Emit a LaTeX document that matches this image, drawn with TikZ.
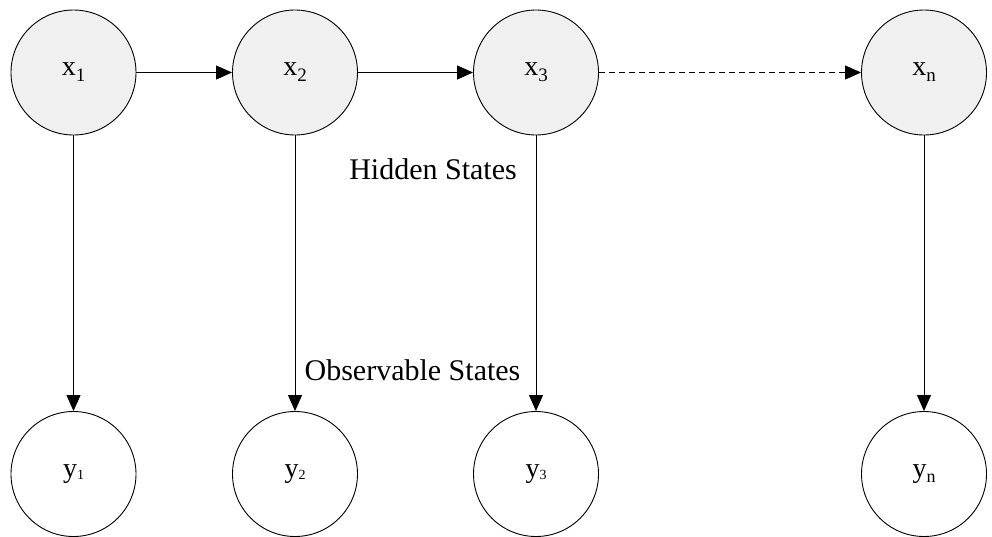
\documentclass[tikz,border=0pt]{standalone}
\usepackage{fontspec}
\setmainfont{Liberation Serif}
\usetikzlibrary{arrows.meta}
\definecolor{statefill}{HTML}{F0F0F0}
% lowered subscript for hidden states, small digit for observations
\newcommand\hsub[1]{\raisebox{-6pt}{\fontsize{19}{19}\selectfont #1}}
\newcommand\osub[1]{\raisebox{-2pt}{\fontsize{14}{14}\selectfont #1}}
\newcommand\nsub[1]{\raisebox{-5pt}{\fontsize{18}{18}\selectfont #1}}
\begin{document}
\begin{tikzpicture}[x=1pt,y=-1pt,
  statenode/.style={circle,draw=black,line width=0.9pt,minimum size=125pt,
    inner sep=0pt,font=\fontsize{28}{28}\selectfont},
  hiddennode/.style={statenode,fill=statefill},
  obsnode/.style={statenode,fill=white},
  link/.style={draw=black,line width=0.9pt,-{Triangle[length=16pt,width=14pt]}},
  caption/.style={font=\fontsize{30}{30}\selectfont,inner sep=0pt,anchor=base}]
\useasboundingbox (0,0) rectangle (992,536);

% hidden chain
\node[hiddennode] (x1) at (73.5,72.5) {x\hsub{1}};
\node[hiddennode] (x2) at (295,72.5) {x\hsub{2}};
\node[hiddennode] (x3) at (536,72.5) {x\hsub{3}};
\node[hiddennode] (xn) at (924,72.5) {x\hsub{n}};

% observations
\node[obsnode] (y1) at (73.5,474) {y\osub{1}};
\node[obsnode] (y2) at (295,474) {y\osub{2}};
\node[obsnode] (y3) at (536,474) {y\osub{3}};
\node[obsnode] (yn) at (924,474) {y\nsub{n}};

% transitions
\draw[link] (x1) -- (x2);
\draw[link] (x2) -- (x3);
\draw[link,dash pattern=on 6pt off 4pt] (x3) -- (xn);

% emissions
\draw[link] (x1) -- (y1);
\draw[link] (x2) -- (y2);
\draw[link] (x3) -- (y3);
\draw[link] (xn) -- (yn);

% captions
\node[caption] (hl) at (433,179) {Hidden States};
\node[caption] (ol) at (412.5,380) {Observable States};
\end{tikzpicture}
\end{document}
